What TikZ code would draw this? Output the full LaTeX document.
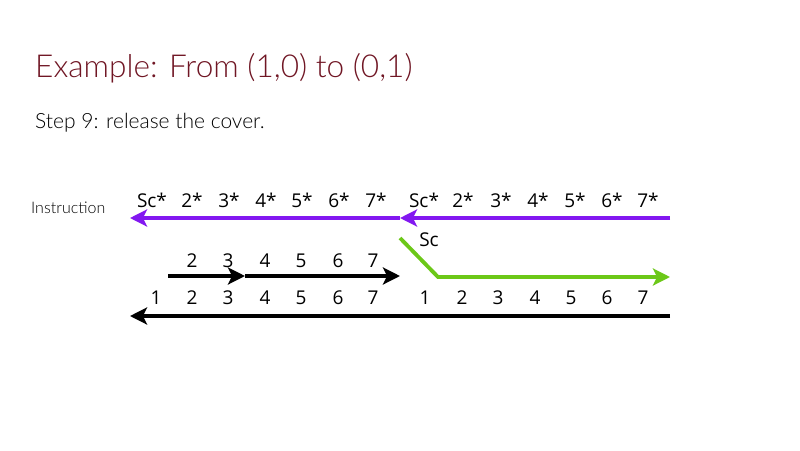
\documentclass[tikz,border=0pt]{standalone}
\usepackage{fontspec}
\setmainfont{Lato}
\newfontfamily\titlefont{Lato Light}
\newfontfamily\labfont{Open Sans}
\usetikzlibrary{arrows.meta}
\definecolor{titlered}{RGB}{112,22,36}
\definecolor{instrpurple}{RGB}{130,24,240}
\definecolor{scgreen}{RGB}{108,200,24}
\tikzset{
  lab/.style={font=\labfont\fontsize{19}{20}\selectfont, anchor=base, inner sep=0pt},
  arr/.style={line width=3.8pt, -{Stealth[length=17pt, width=17pt, inset=4pt]}},
}
\begin{document}
\begin{tikzpicture}[x=1pt,y=-1pt]
\useasboundingbox[fill=white] (0,0) rectangle (800,450);
% title and text
\node[anchor=base west, inner sep=0pt, text=titlered, font=\titlefont\fontsize{31.6}{36}\selectfont] (title) at (35,77) {Example: From (1,0) to (0,1)};
\node[anchor=base west, inner sep=0pt, font=\titlefont\fontsize{21}{24}\selectfont, text=black] (step) at (35,128) {Step 9: release the cover.};
\node[anchor=base west, inner sep=0pt, font=\titlefont\fontsize{16}{18}\selectfont, text=black] (instr) at (31,213) {Instruction};
% coordinates
\coordinate (pL) at (130,218);
\coordinate (pM) at (400,218);
\coordinate (pR) at (670,218);
\coordinate (bA) at (168,276);
\coordinate (bB) at (245,276);
\coordinate (bC) at (400,276);
\coordinate (gA) at (400,238);
\coordinate (gB) at (438,277);
\coordinate (gC) at (670,277);
\coordinate (kL) at (130,316);
\coordinate (kR) at (670,316);
% purple arrows
\draw[arr, instrpurple] (pM) -- (pL);
\draw[arr, instrpurple] (pR) -- (pM);
% black middle arrows
\draw[arr] (bA) -- (bB);
\draw[arr] (bB) -- (bC);
% green
\draw[arr, scgreen, line join=miter] (gA) -- (gB) -- (gC);
% bottom black
\draw[arr] (kR) -- (kL);
% top labels left
\node[lab] (t1) at (152,207) {Sc*};
\node[lab] (t2) at (192,207) {2*};
\node[lab] (t3) at (229,207) {3*};
\node[lab] (t4) at (266,207) {4*};
\node[lab] (t5) at (302,207) {5*};
\node[lab] (t6) at (339,207) {6*};
\node[lab] (t7) at (376,207) {7*};
% top labels right
\node[lab] (u1) at (424,207) {Sc*};
\node[lab] (u2) at (463,207) {2*};
\node[lab] (u3) at (501,207) {3*};
\node[lab] (u4) at (538,207) {4*};
\node[lab] (u5) at (575,207) {5*};
\node[lab] (u6) at (612,207) {6*};
\node[lab] (u7) at (648,207) {7*};
% green label
\node[lab] (sc) at (429,246) {Sc};
% middle row
\node[lab] (m2) at (192,267) {2};
\node[lab] (m3) at (228,267) {3};
\node[lab] (m4) at (265,267) {4};
\node[lab] (m5) at (301,267) {5};
\node[lab] (m6) at (338,267) {6};
\node[lab] (m7) at (373,267) {7};
% bottom row left
\node[lab] (d1) at (156,304) {1};
\node[lab] (d2) at (192,304) {2};
\node[lab] (d3) at (228,304) {3};
\node[lab] (d4) at (265,304) {4};
\node[lab] (d5) at (301,304) {5};
\node[lab] (d6) at (338,304) {6};
\node[lab] (d7) at (373,304) {7};
% bottom row right
\node[lab] (e1) at (425,304) {1};
\node[lab] (e2) at (462,304) {2};
\node[lab] (e3) at (498,304) {3};
\node[lab] (e4) at (535,304) {4};
\node[lab] (e5) at (571,304) {5};
\node[lab] (e6) at (607,304) {6};
\node[lab] (e7) at (643,304) {7};
\end{tikzpicture}
\end{document}
